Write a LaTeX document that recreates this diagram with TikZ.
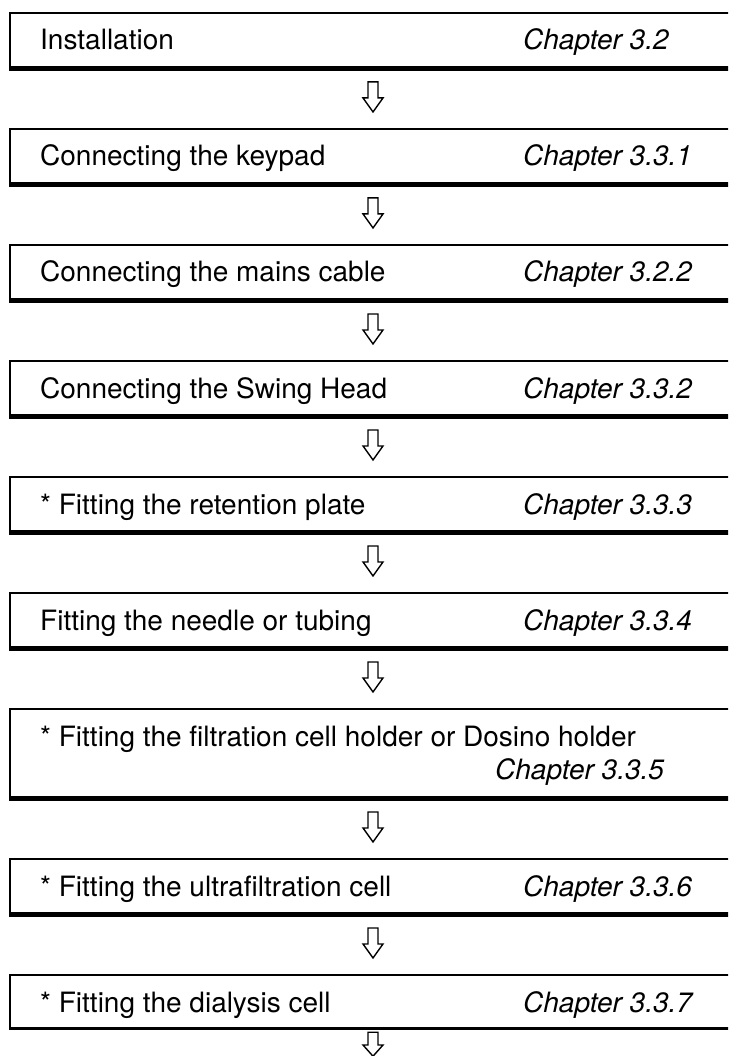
\documentclass[tikz,border=0pt]{standalone}
\usepackage{fontspec}
\setmainfont{TeX Gyre Heros}
\usetikzlibrary{calc}

\tikzset{
  stepbox/.style={rectangle, inner sep=0pt, minimum width=750pt,
    minimum height=55.5pt, anchor=north west},
  frameline/.style={line width=2pt},
  shadowline/.style={line width=5pt},
  steptext/.style={anchor=base west, inner sep=0pt,
    font=\fontsize{28}{33}\selectfont},
  chaptext/.style={anchor=base west, inner sep=0pt,
    font=\fontsize{28}{33}\selectfont\itshape},
  flowarrow/.pic={
    \draw[line width=1.4pt, line join=miter, fill=white]
      (-5,-15) -- (5,-15) -- (5,1) -- (10,1) -- (0,15)
      -- (-10,1) -- (-5,1) -- cycle;
  }
}

\begin{document}
\begin{tikzpicture}[x=1pt, y=-1pt]
  \useasboundingbox (0,0) rectangle (728,1056);
  \fill[white] (0,0) rectangle (728,1056);
  \clip (0,0) rectangle (728,1056);

  % step boxes (open to the right, running past the page edge)
  \node[stepbox] (b1) at (10,13)  {};
  \node[stepbox] (b2) at (10,129) {};
  \node[stepbox] (b3) at (10,245) {};
  \node[stepbox] (b4) at (10,361) {};
  \node[stepbox] (b5) at (10,477) {};
  \node[stepbox] (b6) at (10,593) {};
  \node[stepbox, minimum height=89.5pt] (b7) at (10,709) {};
  \node[stepbox] (b8) at (10,859) {};
  \node[stepbox, minimum height=53pt] (b9) at (10,975) {};

  % frames: thin top and left edge, heavy bottom edge
  \foreach \b in {b1,b2,b3,b4,b5,b6,b7,b8}{
    \draw[frameline] (\b.north east) -- (\b.north west) -- (\b.south west);
    \draw[shadowline] ([xshift=-1pt]\b.south west) -- (\b.south east);
  }
  \draw[frameline] (b9.north east) -- (b9.north west) -- (b9.south west);
  \draw[line width=2.5pt] ([xshift=-1pt]b9.south west) -- (b9.south east);

  % step titles and chapter references
  \node[steptext] (t1) at ($(b1.north west)+(30,37)$) {Installation};
  \node[chaptext] (c1) at ($(b1.north west)+(513,37)$) {Chapter 3.2};
  \node[steptext] (t2) at ($(b2.north west)+(30,37)$) {Connecting the keypad};
  \node[chaptext] (c2) at ($(b2.north west)+(513,37)$) {Chapter 3.3.1};
  \node[steptext] (t3) at ($(b3.north west)+(30,37)$) {Connecting the mains cable};
  \node[chaptext] (c3) at ($(b3.north west)+(513,37)$) {Chapter 3.2.2};
  \node[steptext] (t4) at ($(b4.north west)+(30,37)$) {Connecting the Swing Head};
  \node[chaptext] (c4) at ($(b4.north west)+(513,37)$) {Chapter 3.3.2};
  \node[steptext] (t5) at ($(b5.north west)+(30,37)$) {* Fitting the retention plate};
  \node[chaptext] (c5) at ($(b5.north west)+(513,37)$) {Chapter 3.3.3};
  \node[steptext] (t6) at ($(b6.north west)+(30,37)$) {Fitting the needle or tubing};
  \node[chaptext] (c6) at ($(b6.north west)+(513,37)$) {Chapter 3.3.4};
  \node[steptext] (t7) at ($(b7.north west)+(30,37)$) {* Fitting the filtration cell holder or Dosino holder};
  \node[chaptext] (c7) at ($(b7.north west)+(485,70)$) {Chapter 3.3.5};
  \node[steptext] (t8) at ($(b8.north west)+(30,37)$) {* Fitting the ultrafiltration cell};
  \node[chaptext] (c8) at ($(b8.north west)+(513,37)$) {Chapter 3.3.6};
  \node[steptext] (t9) at ($(b9.north west)+(30,37)$) {* Fitting the dialysis cell};
  \node[chaptext] (c9) at ($(b9.north west)+(513,37)$) {Chapter 3.3.7};

  % hollow arrows between consecutive steps
  \coordinate (ax) at (373,0);
  \coordinate (tail) at (373,1056);
  \foreach \u/\v in {b1/b2,b2/b3,b3/b4,b4/b5,b5/b6,b6/b7,b7/b8,b8/b9}{
    \pic at ($(\u.south -| ax)!.5!(\v.north -| ax)+(0,-2)$) {flowarrow};
  }
  \pic[yscale=0.8] at ($(b9.south -| ax)!.5!(tail)+(0,2)$) {flowarrow};
\end{tikzpicture}
\end{document}
